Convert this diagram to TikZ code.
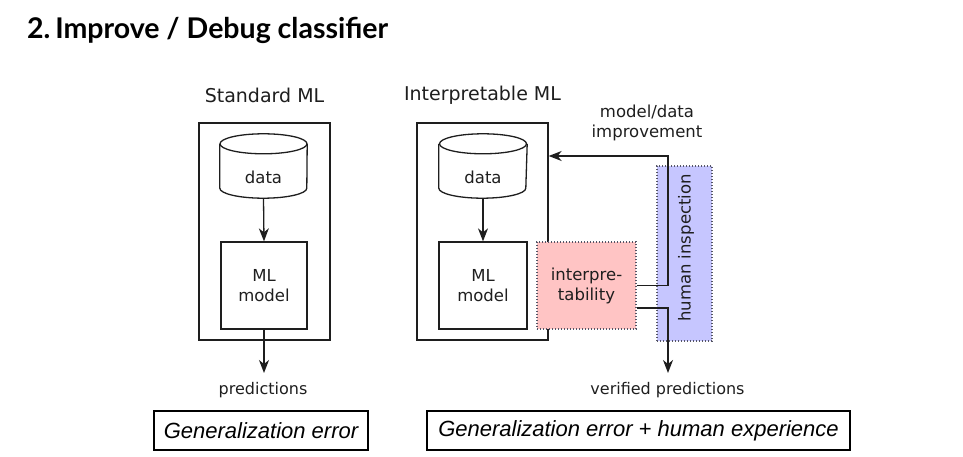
\documentclass[tikz,border=0pt]{standalone}
\usepackage{fontspec}
\usetikzlibrary{arrows.meta,calc}
\newfontfamily\dejavu{DejaVu Sans}
\newfontfamily\libsans{Liberation Sans}
\newfontfamily\titlef{Lato}
\definecolor{ink}{HTML}{1E1E1E}
\definecolor{pinkfill}{HTML}{FFC4C4}
\definecolor{bluefill}{HTML}{C6C6FF}
\definecolor{dotline}{HTML}{555566}
\tikzset{
  lbl/.style={font=\dejavu\fontsize{16}{19}\selectfont, text=ink, inner sep=0pt},
  head/.style={font=\dejavu\fontsize{19}{22}\selectfont, text=ink, inner sep=0pt},
  outerbox/.style={draw=ink, line width=1.3pt, inner sep=0pt},
  modelbox/.style={draw=ink, line width=1.3pt, inner sep=0pt, align=center, font=\dejavu\fontsize{16.5}{20}\selectfont, text=ink},
  cylbox/.style={draw=none, inner sep=0pt, font=\dejavu\fontsize{16.5}{19}\selectfont, text=ink},
  interpbox/.style={fill=pinkfill, draw=dotline, dash pattern=on 1.3pt off 1.7pt, line width=1.3pt, inner sep=0pt, align=center, font=\dejavu\fontsize{16.5}{20}\selectfont, text=ink},
  humanbox/.style={fill=bluefill, draw=dotline, dash pattern=on 1.3pt off 1.7pt, line width=1.3pt, inner sep=0pt},
  resultbox/.style={draw=black, line width=1.6pt, inner sep=0pt, font=\libsans\itshape\fontsize{22}{26}\selectfont, text=black},
  conn/.style={draw=ink, line width=1.3pt, -{Stealth[length=13pt,width=10pt,inset=4pt]}},
  plainline/.style={draw=ink, line width=1.3pt},
}
\newcommand{\cylinderpath}[1]{%
  \draw[plainline] ($(#1.north west)+(0,10)$) -- ($(#1.south west)+(0,-10)$)
     arc[start angle=180, end angle=0, x radius=43.5, y radius=10]
     -- ($(#1.north east)+(0,10)$);
  \draw[plainline] ($(#1.north)+(0,10)$) ellipse[x radius=43.5, y radius=10];
}
\begin{document}
\begin{tikzpicture}[x=1pt,y=-1pt]
\useasboundingbox (0,0) rectangle (963,457);
% title
\node[anchor=west, inner sep=0pt, font=\titlef\bfseries\fontsize{25}{30}\selectfont] (title) at (27,30) {\resizebox{361pt}{!}{2.\,Improve / Debug classifier}};
% ---- Standard ML ----
\node[head] (stdlabel) at (264.5,95) {Standard ML};
\node[outerbox, minimum width=131pt, minimum height=217pt] (stdbox) at (264.5,231.5) {};
\node[cylbox, minimum width=87pt, minimum height=64pt] (dataL) at (263.5,166) {};
\cylinderpath{dataL}
\node[lbl, font=\dejavu\fontsize{16.5}{19}\selectfont] (dataLtxt) at (263.5,177) {data};
\node[modelbox, minimum width=86pt, minimum height=87pt] (modelL) at (264,285.5) {ML\\model};
\coordinate (predLend) at (264,373);
\node[lbl] (predL) at (263,390) {predictions};
\draw[conn] (dataL.south) -- (modelL.north);
\draw[conn] (modelL.south) -- (predLend);
\node[resultbox, minimum width=214pt, minimum height=39pt] (geL) at (261,430.5) {Generalization error};
% ---- Interpretable ML ----
\node[head] (intlabel) at (482.5,95) {Interpretable ML};
\node[outerbox, minimum width=131pt, minimum height=217pt] (intbox) at (482.5,231.5) {};
\node[cylbox, minimum width=88pt, minimum height=64pt] (dataR) at (483,166) {};
\cylinderpath{dataR}
\node[lbl, font=\dejavu\fontsize{16.5}{19}\selectfont] (dataRtxt) at (483,177) {data};
\node[modelbox, minimum width=88pt, minimum height=87pt] (modelR) at (483,285.5) {ML\\model};
\draw[conn] (dataR.south) -- (modelR.north);
\node[interpbox, minimum width=99pt, minimum height=87pt] (interp) at (586.5,285.5) {interpre-\\tability};
\node[humanbox, minimum width=55pt, minimum height=175pt] (human) at (684.5,253.5) {};
\node[lbl, rotate=90, font=\dejavu\fontsize{16.5}{19}\selectfont] (humantxt) at (686,248) {human inspection};
\node[lbl, align=center, font=\dejavu\fontsize{16.5}{20}\selectfont] (improve) at (647,123) {model/data\\improvement};
\coordinate (fbturn) at (668,156);
\draw[conn] (interp.east) -| (fbturn) -- (fbturn -| intbox.east);
\coordinate (outstart) at ($(interp.east)+(0,22.5)$);
\coordinate (vpend) at (668,373);
\draw[conn] (outstart) -| (vpend);
\node[lbl] (vp) at (667.5,390) {verified predictions};
\node[resultbox, minimum width=423pt, minimum height=39pt] (geR) at (638.5,430.5) {Generalization error + human experience};
\end{tikzpicture}
\end{document}
